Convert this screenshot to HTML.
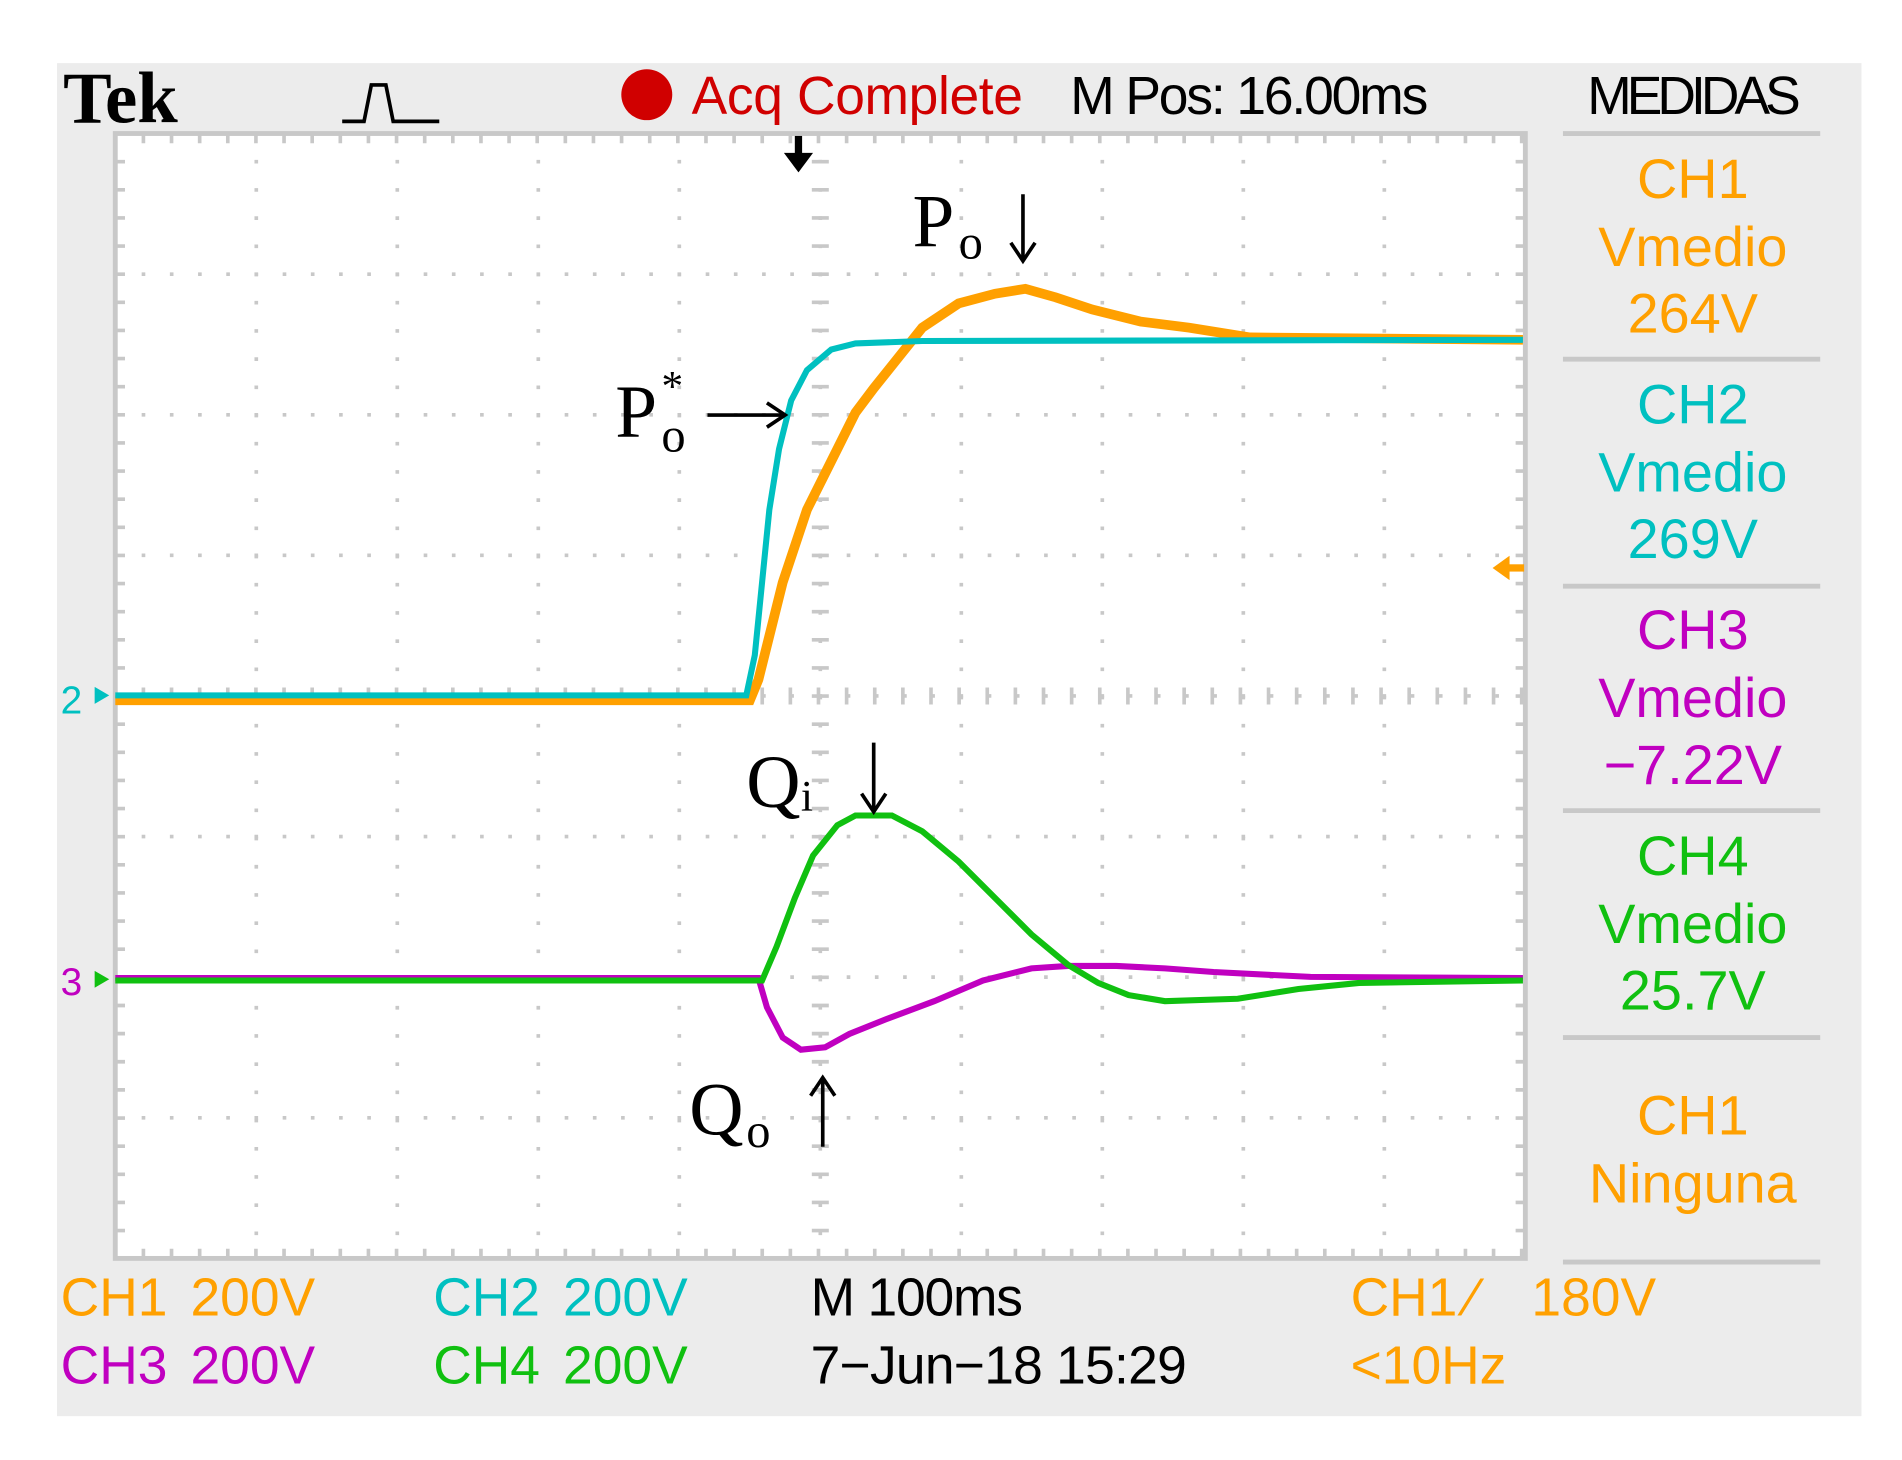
<!DOCTYPE html>
<html><head><meta charset="utf-8"><style>
html,body{margin:0;padding:0;background:#fff;}
svg{display:block;}
.m{font-family:"Liberation Sans Narrow","Liberation Sans",sans-serif;}
.s{font-family:"Liberation Serif",serif;}
</style></head><body>
<svg width="1902" height="1460" viewBox="0 0 1567.4 1203.1" xmlns="http://www.w3.org/2000/svg">
<rect x="47" y="52" width="1487" height="1115" fill="#ececec"/>
<rect x="95" y="110" width="1162" height="927" fill="#fff" stroke="#c8c8c8" stroke-width="4"/>
<g stroke="#c8c8c8" stroke-width="3" stroke-dasharray="3 20.24" stroke-dashoffset="1.5">
<line x1="95" y1="225.9" x2="1257" y2="225.9"/><line x1="95" y1="341.8" x2="1257" y2="341.8"/>
<line x1="95" y1="457.6" x2="1257" y2="457.6"/><line x1="95" y1="573.5" x2="1257" y2="573.5"/>
<line x1="95" y1="689.4" x2="1257" y2="689.4"/><line x1="95" y1="805.2" x2="1257" y2="805.2"/>
<line x1="95" y1="921.1" x2="1257" y2="921.1"/>
<line x1="211.2" y1="110" x2="211.2" y2="1037"/><line x1="327.4" y1="110" x2="327.4" y2="1037"/>
<line x1="443.6" y1="110" x2="443.6" y2="1037"/><line x1="559.8" y1="110" x2="559.8" y2="1037"/>
<line x1="676" y1="110" x2="676" y2="1037"/><line x1="792.2" y1="110" x2="792.2" y2="1037"/>
<line x1="908.4" y1="110" x2="908.4" y2="1037"/><line x1="1024.6" y1="110" x2="1024.6" y2="1037"/>
<line x1="1140.8" y1="110" x2="1140.8" y2="1037"/>
</g>
<g stroke="#c8c8c8" stroke-dasharray="3 20.18" stroke-dashoffset="1.5">
<line x1="676" y1="110" x2="676" y2="1037" stroke-width="14"/>
<line x1="95" y1="573.5" x2="1257" y2="573.5" stroke-width="14"/>
<line x1="99" y1="110" x2="99" y2="1037" stroke-width="8"/>
<line x1="1253" y1="110" x2="1253" y2="1037" stroke-width="8"/>
<line x1="95" y1="114" x2="1257" y2="114" stroke-width="8"/>
<line x1="95" y1="1033" x2="1257" y2="1033" stroke-width="8"/>
</g>
<!-- traces -->
<polyline fill="none" stroke="#ffa000" stroke-width="8" points="95,577 618,577 625,560 635,520 645,480 655,450 665,420 675,400 690,370 705,340 720,320 740,295 760,270 790,250 820,242 845,238 870,245 900,255 940,265 980,270 1030,278 1255,280"/>
<polyline fill="none" stroke="#00c0c0" stroke-width="5" points="95,573 615,573 622,540 628,480 634,420 642,370 652,330 665,305 685,288 705,283 760,281 1255,280"/>
<polyline fill="none" stroke="#c000c0" stroke-width="5" points="95,806 625,806 632,830 645,855 660,865 680,863 700,852 730,840 770,825 810,808 850,798 880,796 920,796 960,798 1000,801 1080,805 1255,806"/>
<polyline fill="none" stroke="#10c010" stroke-width="5" points="95,808 628,808 640,780 655,740 670,705 690,680 705,672 735,672 760,685 790,710 820,740 850,770 880,795 905,810 930,820 960,825 1020,823 1070,815 1120,810 1255,808"/>
<!-- markers -->
<text x="50" y="588" class="m" font-size="32" fill="#00c0c0">2</text>
<polygon points="78,566 90,573 78,580" fill="#00c0c0"/>
<text x="50" y="820" class="m" font-size="32" fill="#c000c0">3</text>
<polygon points="78,800 90,807 78,814" fill="#10c010"/>
<polygon points="646,126 670,126 658,142" fill="#000"/><rect x="655" y="112" width="6" height="18" fill="#000"/>
<polygon points="1244,458 1230,468 1244,478" fill="#ffa000"/><rect x="1240" y="465" width="16" height="6" fill="#ffa000"/>
<!-- header -->
<text x="52" y="101" class="s" font-weight="bold" font-size="60" fill="#000">Tek</text>
<polyline fill="none" stroke="#000" stroke-width="3" points="282,100 300,100 306,70 318,70 324,100 362,100"/>
<circle cx="533" cy="78" r="21" fill="#d00000"/>
<text x="570" y="94" class="m" font-size="44" fill="#d00000" textLength="273">Acq Complete</text>
<text x="882" y="94" class="m" font-size="44" fill="#000" textLength="295">M Pos: 16.00ms</text>
<text x="1308" y="94" class="m" font-size="44" fill="#000" textLength="176">MEDIDAS</text>
<!-- right panel -->
<g stroke="#c8c8c8" stroke-width="4">
<line x1="1288" y1="110" x2="1500" y2="110"/><line x1="1288" y1="296" x2="1500" y2="296"/>
<line x1="1288" y1="483" x2="1500" y2="483"/><line x1="1288" y1="668" x2="1500" y2="668"/>
<line x1="1288" y1="855" x2="1500" y2="855"/><line x1="1288" y1="1040" x2="1500" y2="1040"/>
</g>
<g class="m" font-size="46" text-anchor="middle">
<text x="1395" y="163" fill="#ffa000">CH1</text><text x="1395" y="219" fill="#ffa000">Vmedio</text><text x="1395" y="274" fill="#ffa000">264V</text>
<text x="1395" y="349" fill="#00c0c0">CH2</text><text x="1395" y="405" fill="#00c0c0">Vmedio</text><text x="1395" y="460" fill="#00c0c0">269V</text>
<text x="1395" y="535" fill="#c000c0">CH3</text><text x="1395" y="591" fill="#c000c0">Vmedio</text><text x="1395" y="646" fill="#c000c0">−7.22V</text>
<text x="1395" y="721" fill="#10c010">CH4</text><text x="1395" y="777" fill="#10c010">Vmedio</text><text x="1395" y="832" fill="#10c010">25.7V</text>
<text x="1395" y="935" fill="#ffa000">CH1</text><text x="1395" y="991" fill="#ffa000">Ninguna</text>
</g>
<!-- bottom -->
<g class="m" font-size="44">
<text x="50" y="1084" fill="#ffa000">CH1</text><text x="157" y="1084" fill="#ffa000">200V</text>
<text x="50" y="1140" fill="#c000c0">CH3</text><text x="157" y="1140" fill="#c000c0">200V</text>
<text x="357" y="1084" fill="#00c0c0">CH2</text><text x="464" y="1084" fill="#00c0c0">200V</text>
<text x="357" y="1140" fill="#10c010">CH4</text><text x="464" y="1140" fill="#10c010">200V</text>
<text x="668" y="1084" fill="#000" textLength="175">M 100ms</text>
<text x="668" y="1140" fill="#000" textLength="310">7−Jun−18 15:29</text>
<text x="1113" y="1084" fill="#ffa000">CH1</text><text x="1210" y="1084" fill="#ffa000">⁄</text><text x="1262" y="1084" fill="#ffa000">180V</text>
<text x="1113" y="1140" fill="#ffa000">&lt;10Hz</text>
</g>
<!-- annotations -->
<g class="s" fill="#000">
<text x="752" y="203" font-size="62">P</text><text x="790" y="213" font-size="40">o</text>
<text x="507" y="360" font-size="62">P</text><text x="545" y="372" font-size="40">o</text><text x="545" y="330" font-size="36">*</text>
<text x="615" y="665" font-size="62">Q</text><text x="660" y="668" font-size="36">i</text>
<text x="568" y="935" font-size="62">Q</text><text x="615" y="945" font-size="40">o</text>
</g>
<g stroke="#000" stroke-width="3" fill="none">
<line x1="843" y1="160" x2="843" y2="214"/><polyline points="833,200 843,215 853,200"/>
<line x1="583" y1="342" x2="646" y2="342"/><polyline points="632,332 647,342 632,352"/>
<line x1="720" y1="612" x2="720" y2="668"/><polyline points="710,654 720,669 730,654"/>
<line x1="678" y1="890" x2="678" y2="945"/><polyline points="668,903 678,888 688,903"/>
</g>
</svg>
</body></html>
